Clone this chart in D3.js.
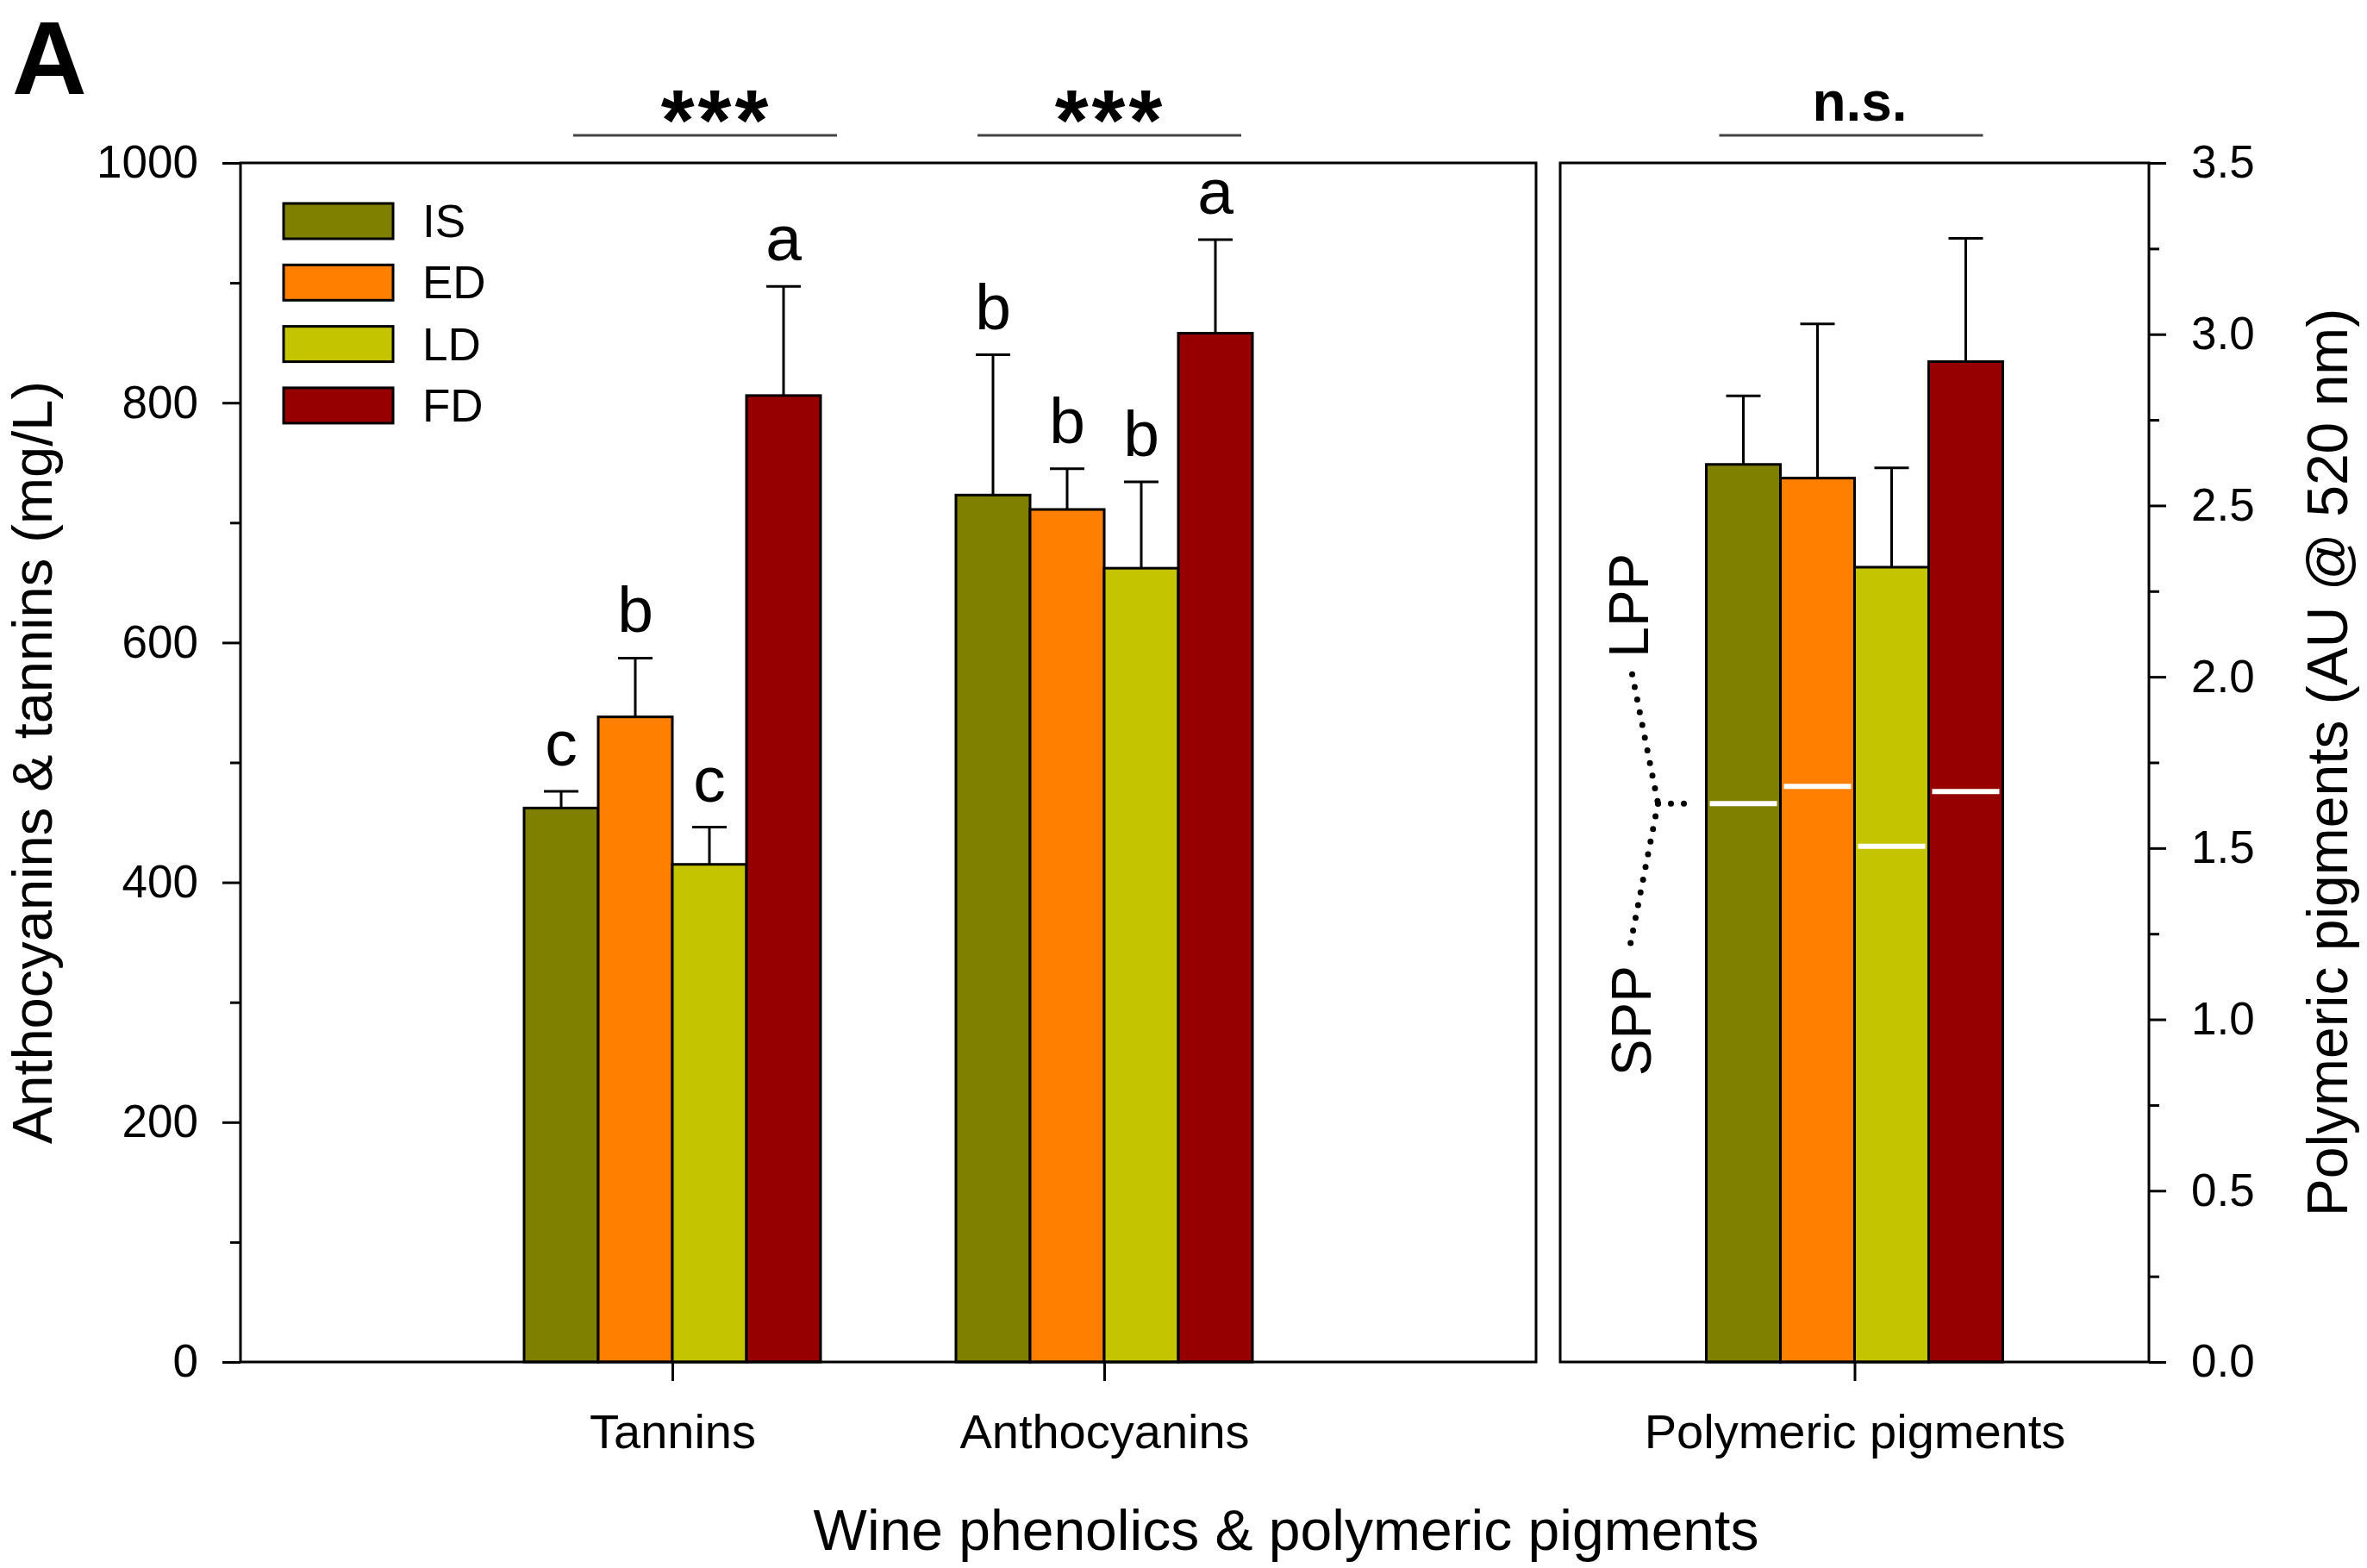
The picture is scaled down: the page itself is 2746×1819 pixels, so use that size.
<!DOCTYPE html>
<html>
<head>
<meta charset="utf-8">
<script src="https://cdn.jsdelivr.net/npm/d3@7"></script>
<style>
  body { margin: 0; background: #fff; }
  svg { display: block; font-family: "Liberation Sans", Arial, sans-serif; }
</style>
</head>
<body>
<div id="chart"></div>
<script>
// series and categories
const series = ["IS", "ED", "LD", "FD"];
const seriesColors = ["#808000", "#ff8000", "#c4c400", "#960000"];
const leftCategories = ["Tannins", "Anthocyanins"];
const rightCategories = ["Polymeric pigments"];

// mg/L (left axis)
const tannins = [462, 538, 415, 806];
const tanninsSE = [14, 49, 31, 91];
const tanninsLetters = ["c", "b", "c", "a"];

const anthocyanins = [723, 711, 662, 858];
const anthocyaninsSE = [117, 34, 72, 78];
const anthocyaninsLetters = ["b", "b", "b", "a"];

// AU @ 520 nm (right axis): total polymeric pigments, split at SPP
const polymeric = [2.62, 2.58, 2.32, 2.92];
const polymericSE = [0.2, 0.45, 0.29, 0.36];
const spp = [1.63, 1.68, 1.505, 1.665];

const significance = ["***", "***", "n.s."];

// ticks
const leftTicks = [0, 200, 400, 600, 800, 1000];
const leftMinorTicks = [100, 300, 500, 700, 900];
const rightTicks = [0, 0.5, 1, 1.5, 2, 2.5, 3, 3.5];
const rightMinorTicks = [0.25, 0.75, 1.25, 1.75, 2.25, 2.75, 3.25];

const width = 2746,
  height = 1819;
const yTop = 189,
  yBot = 1580;
const leftX0 = 279,
  leftX1 = 1782,
  rightX0 = 1810,
  rightX1 = 2493;

const svg = d3
  .select("#chart")
  .append("svg")
  .attr("width", width)
  .attr("height", height);

// scales
const yLeft = d3.scaleLinear().domain([0, 1000]).range([yBot, yTop]);
const yRight = d3.scaleLinear().domain([0, 3.5]).range([yBot, yTop]);
const xLeft = d3.scalePoint().domain(leftCategories).range([leftX0, leftX1]).padding(1);
const xRight = d3.scalePoint().domain(rightCategories).range([rightX0, rightX1]).padding(0.5);
const inner = d3.scaleBand().domain(series).range([-172, 172]);
const color = d3.scaleOrdinal().domain(series).range(seriesColors);

// group rows
const groups = [
  { cat: "Tannins", x: xLeft, y: yLeft, values: tannins, se: tanninsSE, letters: tanninsLetters },
  { cat: "Anthocyanins", x: xLeft, y: yLeft, values: anthocyanins, se: anthocyaninsSE, letters: anthocyaninsLetters },
  { cat: "Polymeric pigments", x: xRight, y: yRight, values: polymeric, se: polymericSE, letters: null },
];

groups.forEach((g) => {
  const cx = g.x(g.cat);
  const rows = series.map((s, i) => ({ s, v: g.values[i], se: g.se[i], letter: g.letters ? g.letters[i] : null, i }));
  const grp = svg.append("g");

  // error bars (upper only)
  rows.forEach((d) => {
    const mx = cx + inner(d.s) + inner.bandwidth() / 2;
    grp.append("line")
      .attr("x1", mx).attr("x2", mx)
      .attr("y1", g.y(d.v)).attr("y2", g.y(d.v + d.se))
      .attr("stroke", "#000").attr("stroke-width", 3);
    grp.append("line")
      .attr("x1", mx - 20).attr("x2", mx + 20)
      .attr("y1", g.y(d.v + d.se)).attr("y2", g.y(d.v + d.se))
      .attr("stroke", "#000").attr("stroke-width", 3);
    if (d.letter) {
      grp.append("text")
        .attr("x", mx)
        .attr("y", g.y(d.v + d.se) - 30)
        .attr("text-anchor", "middle")
        .attr("font-size", 75)
        .text(d.letter);
    }
  });

  grp.selectAll("rect")
    .data(rows)
    .join("rect")
    .attr("x", (d) => cx + inner(d.s))
    .attr("y", (d) => g.y(d.v))
    .attr("width", inner.bandwidth())
    .attr("height", (d) => g.y(0) - g.y(d.v))
    .attr("fill", (d) => color(d.s))
    .attr("stroke", "#000")
    .attr("stroke-width", 3);
});

// SPP / LPP split lines
const polyX = xRight("Polymeric pigments");
svg.append("g")
  .selectAll("line")
  .data(spp)
  .join("line")
  .attr("x1", (d, i) => polyX + inner(series[i]) + 4)
  .attr("x2", (d, i) => polyX + inner(series[i]) + inner.bandwidth() - 4)
  .attr("y1", (d) => yRight(d))
  .attr("y2", (d) => yRight(d))
  .attr("stroke", "#fff")
  .attr("stroke-width", 6);

// bracket for SPP / LPP
const barLeft = polyX + inner("IS");
const apexY = yRight(spp[0]);
const dotted = d3.line();
const bracket = svg.append("g")
  .attr("fill", "none")
  .attr("stroke", "#000")
  .attr("stroke-width", 7)
  .attr("stroke-linecap", "round")
  .attr("stroke-dasharray", "0 15");
bracket.append("path").attr("d", dotted([[barLeft - 86, apexY - 150], [barLeft - 56, apexY]]));
bracket.append("path").attr("d", dotted([[barLeft - 56, apexY], [barLeft - 89, apexY + 168]]));
bracket.append("path").attr("d", dotted([[barLeft - 56, apexY], [barLeft - 12, apexY]]));

svg.append("text")
  .attr("transform", `translate(${barLeft - 68},${apexY - 230}) rotate(-90)`)
  .attr("text-anchor", "middle")
  .attr("font-size", 64)
  .text("LPP");
svg.append("text")
  .attr("transform", `translate(${barLeft - 65},${apexY + 252}) rotate(-90)`)
  .attr("text-anchor", "middle")
  .attr("font-size", 64)
  .text("SPP");

// panel frames
svg.append("rect")
  .attr("x", leftX0).attr("y", yTop)
  .attr("width", leftX1 - leftX0).attr("height", yBot - yTop)
  .attr("fill", "none").attr("stroke", "#000").attr("stroke-width", 3);
svg.append("rect")
  .attr("x", rightX0).attr("y", yTop)
  .attr("width", rightX1 - rightX0).attr("height", yBot - yTop)
  .attr("fill", "none").attr("stroke", "#000").attr("stroke-width", 3);

// axes
function styleAxis(sel, fontSize) {
  sel.select(".domain").remove();
  sel.selectAll(".tick line").attr("stroke", "#000").attr("stroke-width", 3);
  sel.selectAll(".tick text").attr("font-size", fontSize).attr("fill", "#000").attr("font-family", "Liberation Sans, Arial, sans-serif");
}

svg.append("g")
  .attr("transform", `translate(${leftX0},0)`)
  .call(d3.axisLeft(yLeft).tickValues(leftTicks).tickSize(21).tickPadding(28).tickFormat(d3.format("d")))
  .call(styleAxis, 53);
svg.append("g")
  .attr("transform", `translate(${leftX0},0)`)
  .call(d3.axisLeft(yLeft).tickValues(leftMinorTicks).tickSize(12).tickFormat(""))
  .call(styleAxis, 53);

svg.append("g")
  .attr("transform", `translate(${rightX1},0)`)
  .call(d3.axisRight(yRight).tickValues(rightTicks).tickSize(20).tickPadding(29).tickFormat(d3.format(".1f")))
  .call(styleAxis, 53);
svg.append("g")
  .attr("transform", `translate(${rightX1},0)`)
  .call(d3.axisRight(yRight).tickValues(rightMinorTicks).tickSize(12).tickFormat(""))
  .call(styleAxis, 53);

svg.append("g")
  .attr("transform", `translate(0,${yBot})`)
  .call(d3.axisBottom(xLeft).tickSize(22).tickPadding(38))
  .call(styleAxis, 56);
svg.append("g")
  .attr("transform", `translate(0,${yBot})`)
  .call(d3.axisBottom(xRight).tickSize(22).tickPadding(38))
  .call(styleAxis, 56);

// significance marks
const sigCenters = [xLeft("Tannins"), xLeft("Anthocyanins"), xRight("Polymeric pigments")];
const sigLineShift = [38, 6, -4];
const sigTextShift = [51, 7, 6];
significance.forEach((label, i) => {
  const c = sigCenters[i];
  svg.append("line")
    .attr("x1", c + sigLineShift[i] - 153)
    .attr("x2", c + sigLineShift[i] + 153)
    .attr("y1", 157).attr("y2", 157)
    .attr("stroke", "#444").attr("stroke-width", 3);
  const isStars = label === "***";
  svg.append("text")
    .attr("x", c + sigTextShift[i])
    .attr("y", isStars ? 174 : 140)
    .attr("text-anchor", "middle")
    .attr("font-weight", "bold")
    .attr("font-size", isStars ? 100 : 64)
    .attr("letter-spacing", isStars ? 4 : 0)
    .text(label);
});

// legend
const legend = svg.append("g").attr("transform", "translate(329,236)");
series.forEach((s, i) => {
  const row = legend.append("g").attr("transform", `translate(0,${i * 71.3})`);
  row.append("rect")
    .attr("width", 127).attr("height", 41)
    .attr("fill", color(s)).attr("stroke", "#000").attr("stroke-width", 3);
  row.append("text")
    .attr("x", 161).attr("y", 20.5).attr("dy", "0.35em")
    .attr("font-size", 53)
    .text(s);
});

// axis titles
svg.append("text")
  .attr("transform", `translate(60,${(yTop + yBot) / 2}) rotate(-90)`)
  .attr("text-anchor", "middle")
  .attr("font-size", 65)
  .text("Anthocyanins & tannins (mg/L)");
svg.append("text")
  .attr("transform", `translate(2723,${(yTop + yBot) / 2}) rotate(-90)`)
  .attr("text-anchor", "middle")
  .attr("font-size", 66)
  .text("Polymeric pigments (AU @ 520 nm)");
svg.append("text")
  .attr("x", 1492).attr("y", 1798)
  .attr("text-anchor", "middle")
  .attr("font-size", 66)
  .text("Wine phenolics & polymeric pigments");

// panel letter
svg.append("text")
  .attr("x", 14).attr("y", 109)
  .attr("font-weight", "bold")
  .attr("font-size", 120)
  .text("A");
</script>
</body>
</html>
